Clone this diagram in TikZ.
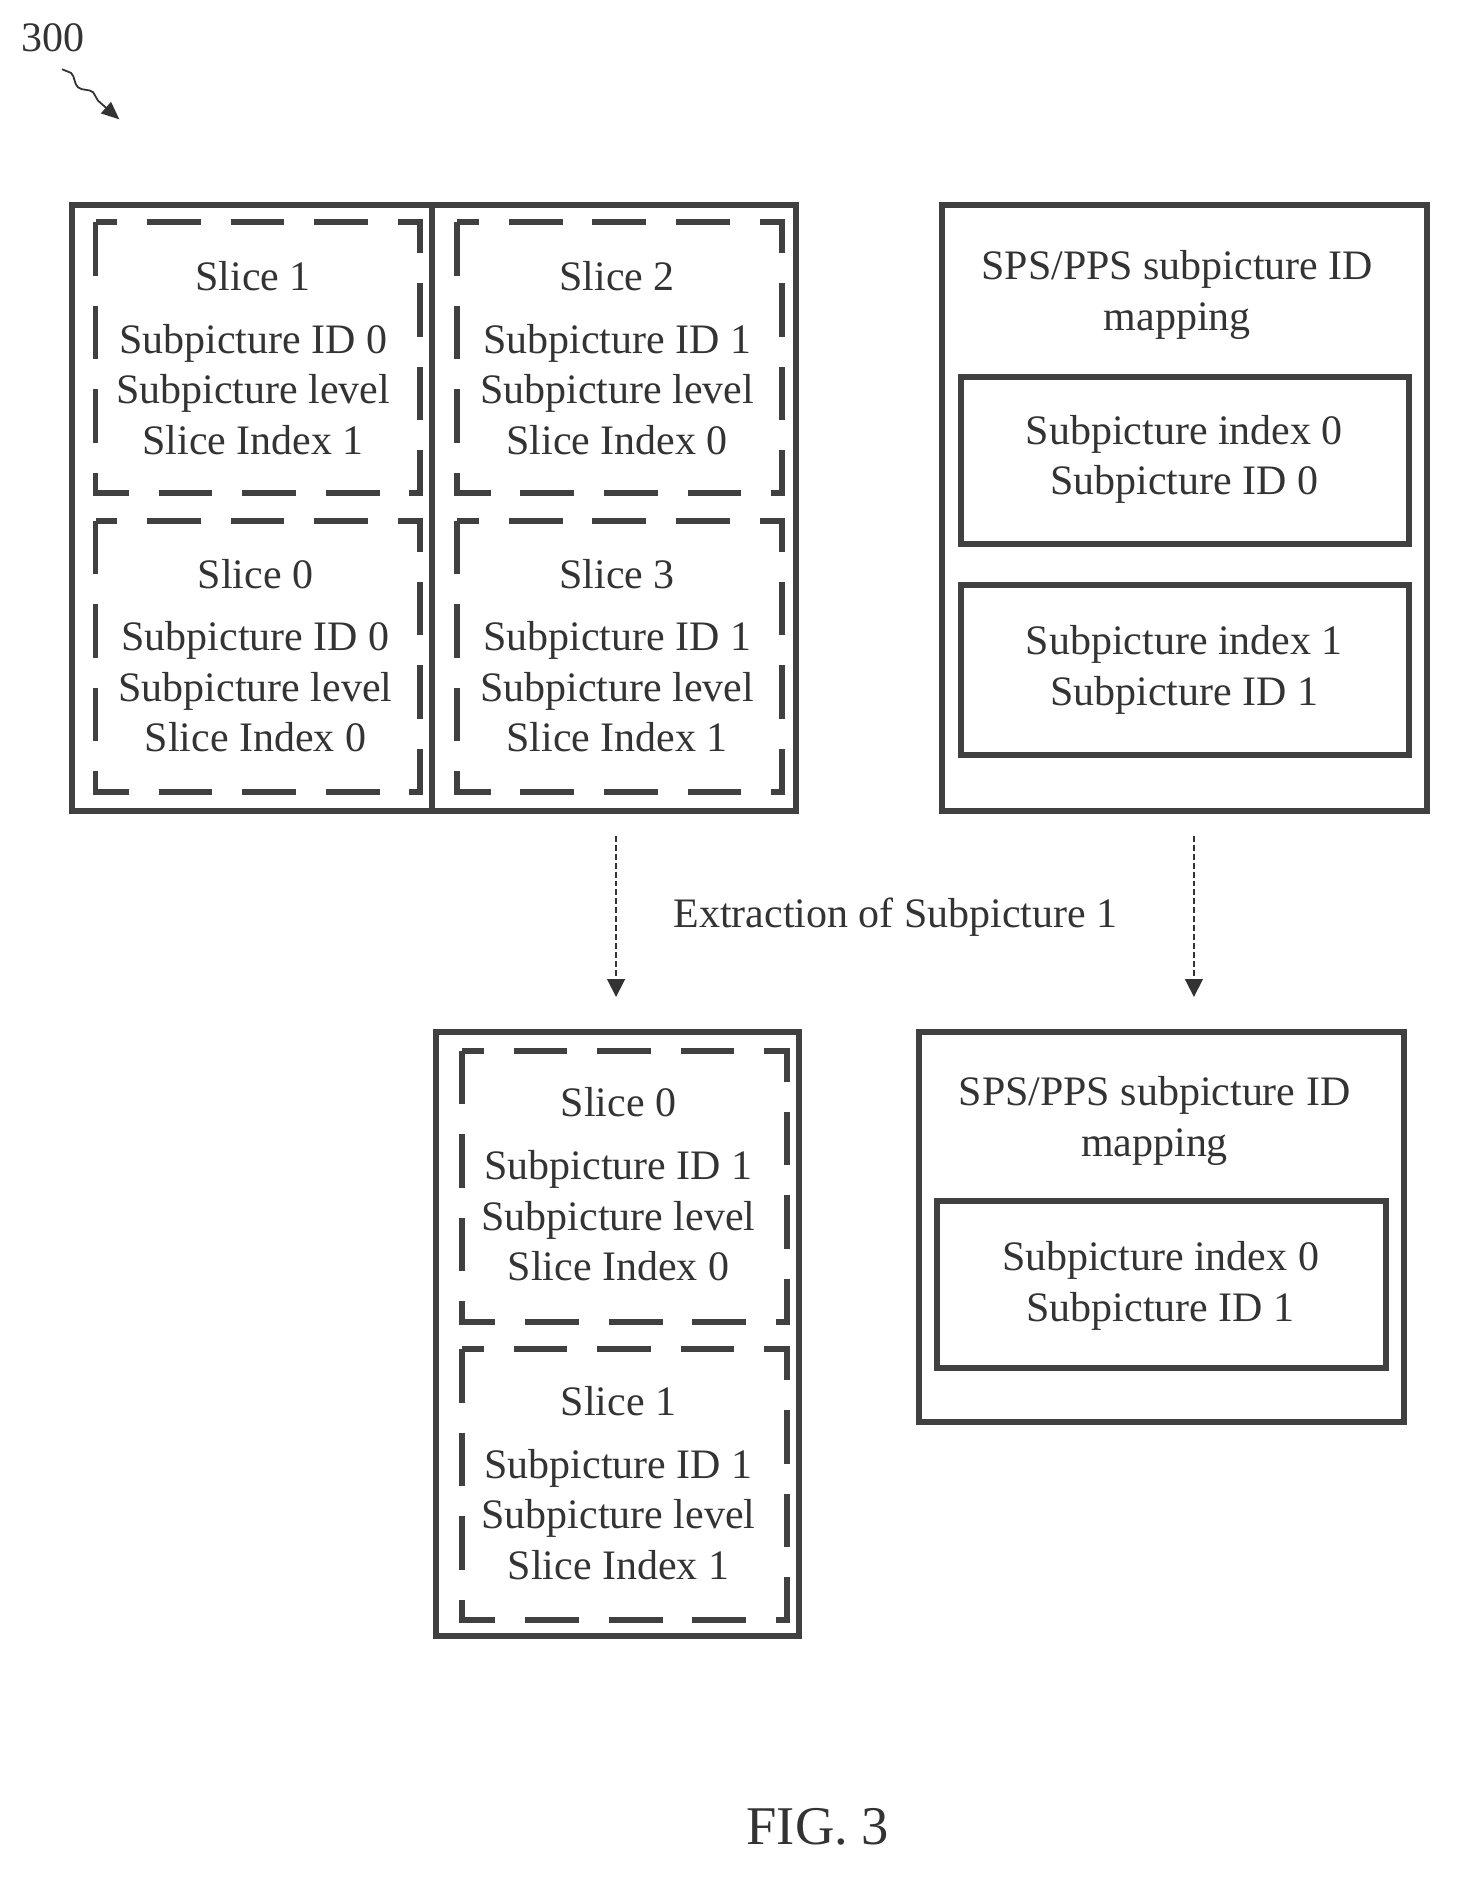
\documentclass[tikz,border=0pt]{standalone}
\usepackage{fontspec}
\setmainfont{Liberation Serif}
\usetikzlibrary{arrows.meta,decorations.pathmorphing}
\begin{document}
\begin{tikzpicture}[x=0.02cm,y=-0.02cm,
  solid box/.style={draw=black!75,line width=0.1cm},
  dash box/.style={draw=black!75,line width=0.1cm,dash pattern=on 0.9cm off 0.5cm},
  txt/.style={font=\fontsize{20}{24}\selectfont,text=black!80,align=center},
  arr/.style={draw=black!80,line width=0.03cm,dash pattern=on 0.1cm off 0.05cm,-{Triangle[width=0.3cm,length=0.3cm]}}]
\useasboundingbox (0,0) rectangle (1220,1578);
\node[txt] (n300) at (44,32) {300};
\coordinate (a300) at (100,100);
\draw[black!80,line width=0.03cm,-{Triangle[width=0.25cm,length=0.3cm]},decorate,decoration={snake,amplitude=1.5pt,segment length=14pt,post length=8pt}] (52,58) -- (a300);
% top left picture
\draw[solid box] (60,172) rectangle (667,679);
\draw[solid box] (362,172) -- (362,679);
\foreach \x/\y in {80/186,80/436,383/186,383/436}{
  \draw[dash box] (\x,\y) rectangle ++(272,227);}
\node[txt] (s1) at (212,300) {Slice 1\\[6pt]Subpicture ID 0\\Subpicture level\\Slice Index 1};
\node[txt] (s2) at (517,300) {Slice 2\\[6pt]Subpicture ID 1\\Subpicture level\\Slice Index 0};
\node[txt] (s0) at (214,549) {Slice 0\\[6pt]Subpicture ID 0\\Subpicture level\\Slice Index 0};
\node[txt] (s3) at (517,549) {Slice 3\\[6pt]Subpicture ID 1\\Subpicture level\\Slice Index 1};
% top right
\draw[solid box] (789,172) rectangle (1195,679);
\node[txt] (m1) at (986,247) {SPS/PPS subpicture ID\\mapping};
\draw[solid box] (805,316) rectangle (1180,456);
\node[txt] (i0) at (992,385) {Subpicture index 0\\Subpicture ID 0};
\draw[solid box] (805,490) rectangle (1180,632);
\node[txt] (i1) at (992,561) {Subpicture index 1\\Subpicture ID 1};
% arrows
\coordinate (a1s) at (516,700); \coordinate (a1e) at (516,835);
\coordinate (a2s) at (1000,700); \coordinate (a2e) at (1000,835);
\draw[arr] (a1s) -- (a1e);
\draw[arr] (a2s) -- (a2e);
\node[txt] (ext) at (750,768) {Extraction of Subpicture 1};
% bottom left
\draw[solid box] (365,864) rectangle (669,1370);
\draw[dash box] (387,880) rectangle (659,1107);
\draw[dash box] (387,1130) rectangle (659,1357);
\node[txt] (b0) at (518,992) {Slice 0\\[6pt]Subpicture ID 1\\Subpicture level\\Slice Index 0};
\node[txt] (b1) at (518,1242) {Slice 1\\[6pt]Subpicture ID 1\\Subpicture level\\Slice Index 1};
% bottom right
\draw[solid box] (770,864) rectangle (1176,1191);
\node[txt] (m2) at (967,939) {SPS/PPS subpicture ID\\mapping};
\draw[solid box] (785,1006) rectangle (1161,1146);
\node[txt] (j0) at (972,1077) {Subpicture index 0\\Subpicture ID 1};
\node[font=\fontsize{26}{30}\selectfont,text=black!80] (fig) at (685,1530) {FIG. 3};
\end{tikzpicture}
\end{document}
